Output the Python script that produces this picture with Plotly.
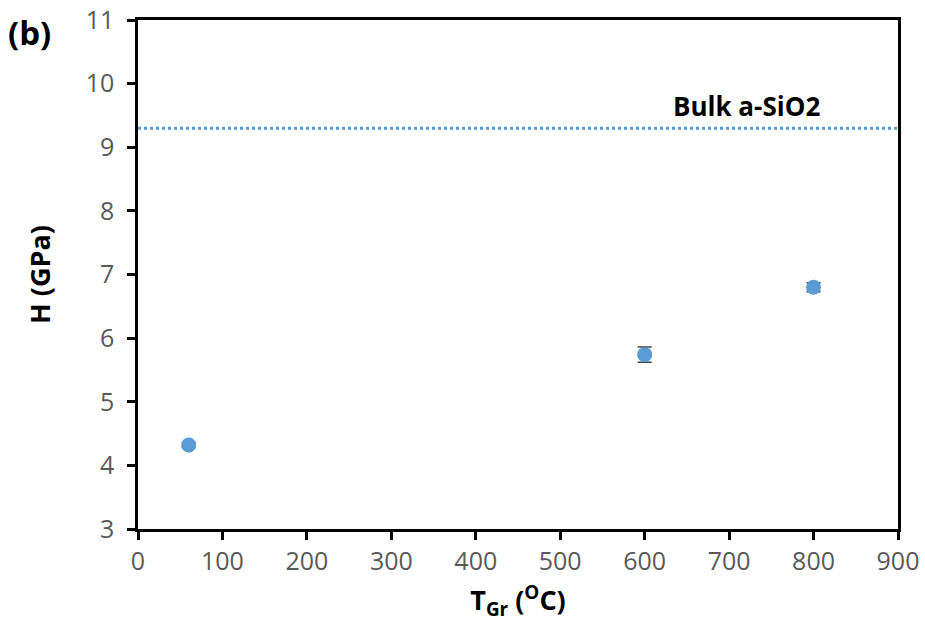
import plotly.graph_objects as go

# Growth temperature (°C) and measured hardness (GPa)
t_gr = [60, 600, 800]
hardness = [4.32, 5.74, 6.80]
hardness_err = [0.04, 0.12, 0.07]

# Reference hardness of bulk amorphous silica
bulk_h = 9.3
bulk_label = "Bulk a-SiO2"

x_ticks = [0, 100, 200, 300, 400, 500, 600, 700, 800, 900]
y_ticks = [3, 4, 5, 6, 7, 8, 9, 10, 11]

blue = "#5B9BD5"
font_family = "Open Sans, Lato, sans-serif"

fig = go.Figure()

fig.add_trace(go.Scatter(
    x=[x_ticks[0], x_ticks[-1]], y=[bulk_h, bulk_h],
    mode="lines",
    line=dict(color=blue, width=3, dash="dot"),
    hoverinfo="skip", showlegend=False,
))

fig.add_trace(go.Scatter(
    x=t_gr, y=hardness,
    mode="markers",
    marker=dict(color=blue, size=15),
    error_y=dict(type="data", array=hardness_err, visible=True,
                 color="#404040", thickness=1.5, width=7),
    showlegend=False,
))

fig.add_annotation(
    x=720, y=bulk_h, xref="x", yref="y",
    text="<b>" + bulk_label + "</b>",
    showarrow=False, yshift=22,
    font=dict(family=font_family, size=26, color="black"),
)

# Panel letter in the top-left corner of the page
fig.add_annotation(
    x=0.0, y=1.0, xref="paper", yref="paper",
    xanchor="left", yanchor="top",
    text="<b>(b)</b>", showarrow=False, xshift=-132, yshift=12,
    font=dict(family=font_family, size=33, color="black"),
)

axis_common = dict(
    showline=True, linecolor="black", linewidth=2.5, mirror=True,
    ticks="outside", ticklen=8, tickwidth=2.5, tickcolor="black",
    showgrid=False, zeroline=False, automargin=False,
    ticklabeloverflow="allow",
    tickfont=dict(family=font_family, size=25, color="#595959"),
)

fig.update_xaxes(
    range=[0, 900], tickvals=x_ticks,
    title=dict(text="<b>T<sub>Gr</sub> (<sup>O</sup>C)</b>",
               font=dict(family=font_family, size=27, color="black"),
               standoff=16),
    **axis_common,
)
fig.update_yaxes(
    range=[3, 11], tickvals=y_ticks,
    ticklabelstandoff=8,
    title=dict(text="<b>H (GPa)</b>",
               font=dict(family=font_family, size=27, color="black"),
               standoff=28),
    **axis_common,
)

fig.update_layout(
    width=925, height=639,
    margin=dict(l=138, r=27, t=20, b=110),
    paper_bgcolor="white", plot_bgcolor="white",
)

fig.write_html("out.html")
